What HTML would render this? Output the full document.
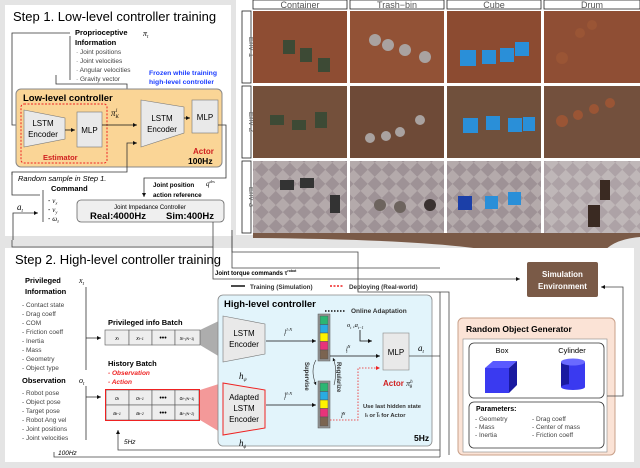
<!DOCTYPE html>
<html><head><meta charset="utf-8"><style>
body{margin:0;background:#fff}
svg{display:block}
text{font-family:"Liberation Sans",sans-serif}
.b{font-weight:bold}
.s{font-size:6.5px;fill:#444}
.m{font-family:"Liberation Serif",serif;font-style:italic}
</style></head><body>
<svg width="640" height="468" viewBox="0 0 640 468" xmlns="http://www.w3.org/2000/svg">
<defs>
<marker id="ar" markerWidth="6" markerHeight="6" refX="5" refY="3" orient="auto"><path d="M0,0.5 L5,3 L0,5.5z" fill="#111"/></marker>
<marker id="arr" markerWidth="6" markerHeight="6" refX="5" refY="3" orient="auto"><path d="M0,0.5 L5,3 L0,5.5z" fill="#e22"/></marker>
<pattern id="chk" width="20" height="20" patternUnits="userSpaceOnUse" patternTransform="rotate(45)"><rect width="20" height="20" fill="#9e9296"/><rect width="10" height="10" fill="#b4aaab"/><rect x="10" y="10" width="10" height="10" fill="#b4aaab"/></pattern>
</defs>
<rect width="640" height="468" fill="#e4e4e4"/>
<!-- Step 1 panel -->
<rect x="5" y="5" width="226" height="231" fill="#fff"/>
<text x="13" y="21" font-size="13">Step 1. Low-level controller training</text>
<text x="75" y="35" font-size="7.5" class="b">Proprioceptive</text>
<text x="75" y="45" font-size="7.5" class="b">Information</text>
<text x="143" y="36" font-size="8" class="m">π<tspan font-size="5" dy="2">t</tspan></text>
<line x1="70" y1="36" x2="70" y2="80" stroke="#333" stroke-width="0.8"/>
<g class="s"><text x="76" y="54">·   Joint positions</text><text x="76" y="63">·   Joint velocities</text><text x="76" y="72">·   Angular velocities</text><text x="76" y="81">·   Gravity vector</text></g>
<text x="149" y="75" font-size="6.8" class="b" fill="#1a3cff">Frozen while training</text>
<text x="149" y="84" font-size="6.8" class="b" fill="#1a3cff">high-level controller</text>
<polyline points="70,33 12,33 12,125 22,125" fill="none" stroke="#333" stroke-width="0.8" marker-end="url(#ar)"/>
<polyline points="56,75 56,84 127,84 127,107 137,107" fill="none" stroke="#333" stroke-width="0.8" marker-end="url(#ar)"/>
<rect x="16" y="89" width="206" height="78" rx="5" fill="#fad596" stroke="#888"/>
<text x="23" y="101" font-size="9.5" class="b">Low-level controller</text>
<rect x="21" y="104" width="86" height="59" rx="3" fill="none" stroke="#e22" stroke-dasharray="2,1.5"/>
<polygon points="24,110 65,118 65,139 24,147" fill="#e9e9e9" stroke="#777" stroke-width="0.6"/>
<text x="43" y="126" font-size="8" text-anchor="middle">LSTM</text><text x="43" y="137" font-size="8" text-anchor="middle">Encoder</text>
<rect x="77" y="112" width="25" height="35" fill="#e9e9e9" stroke="#777" stroke-width="0.6"/>
<text x="89.5" y="133" font-size="8" text-anchor="middle">MLP</text>
<line x1="65" y1="130" x2="75" y2="130" stroke="#111" stroke-width="0.8" marker-end="url(#ar)"/>
<text x="43" y="160" font-size="7.5" class="b" fill="#d02020">Estimator</text>
<text x="111" y="116" font-size="9" class="m">π<tspan font-size="5" dy="2">K</tspan><tspan font-size="5" dy="-6" dx="-3">l</tspan></text>
<line x1="102" y1="125" x2="137" y2="125" stroke="#111" stroke-width="0.8" marker-end="url(#ar)"/>
<polyline points="12,175 12,172 127,172 127,143 137,143" fill="none" stroke="#333" stroke-width="0.8" marker-end="url(#ar)"/>
<polygon points="141,100 184,107 184,133 141,147" fill="#e9e9e9" stroke="#777" stroke-width="0.6"/>
<text x="162" y="121" font-size="8" text-anchor="middle">LSTM</text><text x="162" y="132" font-size="8" text-anchor="middle">Encoder</text>
<line x1="184" y1="118" x2="190" y2="118" stroke="#111" stroke-width="0.8" marker-end="url(#ar)"/>
<rect x="192" y="100" width="26" height="33" fill="#e9e9e9" stroke="#777" stroke-width="0.6"/>
<text x="205" y="120" font-size="8" text-anchor="middle">MLP</text>
<text x="193" y="154" font-size="8" class="b" fill="#d02020">Actor</text>
<text x="188" y="164" font-size="8.5" class="b">100Hz</text>
<text x="18" y="181" font-size="7.5" font-style="italic">Random sample in Step 1.</text>
<polyline points="12,172 12,195 40,195" fill="none" stroke="#333" stroke-width="0.8"/>
<text x="51" y="191" font-size="7.5" class="b">Command</text>
<line x1="43" y1="190" x2="43" y2="222" stroke="#333" stroke-width="0.8"/>
<g font-size="7"><text x="48" y="203">-  <tspan class="m">v<tspan font-size="4.5" dy="1.5">x</tspan></tspan></text><text x="48" y="212">-  <tspan class="m">v<tspan font-size="4.5" dy="1.5">y</tspan></tspan></text><text x="48" y="221">-  <tspan class="m">ω<tspan font-size="4.5" dy="1.5">z</tspan></tspan></text></g>
<text x="17" y="210" font-size="9" class="m">a<tspan font-size="5" dy="2">t</tspan></text>
<polyline points="13,240 13,213 38,213" fill="none" stroke="#333" stroke-width="0.8" marker-end="url(#ar)"/>
<text x="153" y="187" font-size="6.3" class="b">Joint position</text>
<text x="206" y="186" font-size="7" class="m">q<tspan font-size="4" dy="-3">des</tspan></text>
<text x="153" y="197" font-size="6.3" class="b">action reference</text>
<polyline points="218,125 226,125 226,178 144,178 144,197" fill="none" stroke="#333" stroke-width="0.8" marker-end="url(#ar)"/>
<rect x="77" y="200" width="147" height="22" rx="4" fill="#efefef" stroke="#666" stroke-width="0.8"/>
<text x="150" y="209" font-size="6" text-anchor="middle">Joint Impedance Controller</text>
<text x="90" y="219" font-size="9.5" class="b">Real:4000Hz</text>
<text x="166" y="219" font-size="9.5" class="b">Sim:400Hz</text>
<!-- photo grid -->
<rect x="236" y="0" width="404" height="235" fill="#fff"/>
<g font-family="Liberation Serif" font-size="9" fill="#555" text-anchor="middle">
<rect x="253" y="0" width="94" height="9" fill="#fff" stroke="#222" stroke-width="0.8"/><text x="300" y="8">Container</text>
<rect x="350" y="0" width="94" height="9" fill="#fff" stroke="#222" stroke-width="0.8"/><text x="397" y="8">Trash−bin</text>
<rect x="447" y="0" width="94" height="9" fill="#fff" stroke="#222" stroke-width="0.8"/><text x="494" y="8">Cube</text>
<rect x="544" y="0" width="96" height="9" fill="#fff" stroke="#222" stroke-width="0.8"/><text x="592" y="8">Drum</text>
</g>
<g stroke="#222" stroke-width="0.8" fill="#fff">
<rect x="242" y="11" width="9" height="72"/><rect x="242" y="86" width="9" height="72"/><rect x="242" y="161" width="9" height="72"/></g>
<g font-family="Liberation Serif" font-size="8" fill="#666" text-anchor="middle">
<text transform="translate(249,47) rotate(90)">Env 1</text><text transform="translate(249,122) rotate(90)">Env 2</text><text transform="translate(249,197) rotate(90)">Env 3</text></g>
<g>
<rect x="253" y="11" width="94" height="72" fill="#8e4d33"/><rect x="350" y="11" width="94" height="72" fill="#925236"/><rect x="447" y="11" width="94" height="72" fill="#8c4b31"/><rect x="544" y="11" width="96" height="72" fill="#8f4e34"/>
<rect x="253" y="86" width="94" height="72" fill="#74503b"/><rect x="350" y="86" width="94" height="72" fill="#6e4a37"/><rect x="447" y="86" width="94" height="72" fill="#70503c"/><rect x="544" y="86" width="96" height="72" fill="#73503d"/>
<rect x="253" y="161" width="94" height="72" fill="url(#chk)"/><rect x="350" y="161" width="94" height="72" fill="url(#chk)"/><rect x="447" y="161" width="94" height="72" fill="url(#chk)"/><rect x="544" y="161" width="96" height="72" fill="url(#chk)" opacity="0.85"/>
</g>
<g fill="#3d4a35"><rect x="283" y="40" width="12" height="14"/><rect x="300" y="48" width="12" height="14"/><rect x="318" y="58" width="12" height="14"/><rect x="270" y="115" width="14" height="10"/><rect x="292" y="120" width="14" height="10"/><rect x="315" y="112" width="12" height="16"/><rect x="280" y="180" width="14" height="10" fill="#333"/><rect x="300" y="178" width="14" height="10" fill="#333"/><rect x="330" y="195" width="10" height="18" fill="#333"/></g>
<g fill="#2a8fd8"><rect x="460" y="50" width="16" height="16"/><rect x="482" y="50" width="14" height="14"/><rect x="500" y="48" width="14" height="14"/><rect x="515" y="42" width="14" height="14"/><rect x="463" y="118" width="15" height="15"/><rect x="486" y="116" width="14" height="14"/><rect x="508" y="118" width="14" height="14"/><rect x="523" y="117" width="12" height="14"/><rect x="458" y="196" width="14" height="14" fill="#1b3fa8"/><rect x="485" y="196" width="13" height="13"/><rect x="508" y="192" width="13" height="13"/></g>
<g fill="#a9a2a0"><circle cx="375" cy="40" r="6"/><circle cx="388" cy="45" r="6"/><circle cx="405" cy="50" r="6"/><circle cx="425" cy="57" r="6"/><circle cx="370" cy="138" r="5"/><circle cx="386" cy="136" r="5"/><circle cx="400" cy="132" r="5"/><circle cx="420" cy="120" r="5"/><circle cx="380" cy="205" r="6" fill="#6d645e"/><circle cx="400" cy="207" r="6" fill="#6d645e"/><circle cx="430" cy="205" r="6" fill="#3a3230"/></g>
<g fill="#9a5535"><circle cx="562" cy="58" r="6"/><circle cx="580" cy="33" r="5"/><circle cx="592" cy="25" r="5"/><circle cx="562" cy="121" r="6"/><circle cx="578" cy="115" r="5"/><circle cx="594" cy="109" r="5"/><circle cx="610" cy="103" r="5"/><rect x="588" y="205" width="12" height="22" fill="#3a2a22"/><rect x="600" y="180" width="10" height="20" fill="#3a2a22"/></g>
<!-- funnel -->
<path d="M253,233 L640,233 L640,237 Q605,240 598,262 L527,262 Q500,240 253,238 Z" fill="#7a5a47"/>
<!-- Step 2 panel -->
<rect x="5" y="248" width="629" height="214" fill="#fff"/>
<text x="15" y="264" font-size="13">Step 2. High-level controller training</text>
<path d="M213,222 L213,254 M232,230 L232,252 L320,252 L350,252 L358,252 L358,292 L440,292" fill="none" stroke="#444" stroke-width="0.8"/>
<polyline points="12,240 12,247 213,247" fill="none" stroke="#444" stroke-width="0.8"/>
<polyline points="213,254 213,279 520,279" fill="none" stroke="#444" stroke-width="0.8" marker-end="url(#ar)"/>
<polyline points="232,236 232,268 440,268" fill="none" stroke="#444" stroke-width="0.8"/>
<text x="215" y="275" font-size="6" class="b">Joint torque commands τ<tspan font-size="3.5" dy="-3">robot</tspan></text>
<rect x="527" y="262" width="71" height="35" rx="2" fill="#7a5a47"/>
<text x="562.5" y="277" font-size="8" class="b" fill="#fff" text-anchor="middle">Simulation</text>
<text x="562.5" y="289" font-size="8" class="b" fill="#fff" text-anchor="middle">Environment</text>
<line x1="231" y1="286" x2="245" y2="286" stroke="#111" stroke-width="1.5"/>
<text x="250" y="289" font-size="6.3" class="b" fill="#333">Training (Simulation)</text>
<line x1="330" y1="286" x2="344" y2="286" stroke="#e22" stroke-width="1.5" stroke-dasharray="2,1.5"/>
<text x="349" y="289" font-size="6.3" class="b" fill="#333">Deploying (Real-world)</text>
<text x="25" y="283" font-size="7.5" class="b">Privileged</text>
<text x="25" y="294" font-size="7.5" class="b">Information</text>
<text x="79" y="283" font-size="8" class="m">x<tspan font-size="5" dy="2">t</tspan></text>
<line x1="86" y1="287" x2="86" y2="370" stroke="#333" stroke-width="0.8"/>
<line x1="86" y1="338" x2="101" y2="338" stroke="#333" stroke-width="0.8" marker-end="url(#ar)"/>
<g class="s"><text x="22" y="307">-   Contact state</text><text x="22" y="316">-   Drag coeff</text><text x="22" y="325">-   COM</text><text x="22" y="334">-   Friction coeff</text><text x="22" y="343">-   Inertia</text><text x="22" y="352">-   Mass</text><text x="22" y="361">-   Geometry</text><text x="22" y="370">-   Object type</text></g>
<text x="22" y="383" font-size="7.5" class="b">Observation</text>
<text x="79" y="383" font-size="8" class="m">o<tspan font-size="5" dy="2">t</tspan></text>
<line x1="86" y1="386" x2="86" y2="440" stroke="#333" stroke-width="0.8"/>
<line x1="86" y1="397" x2="101" y2="397" stroke="#333" stroke-width="0.8" marker-end="url(#ar)"/>
<g class="s"><text x="22" y="395">-   Robot pose</text><text x="22" y="404">-   Object pose</text><text x="22" y="413">-   Target pose</text><text x="22" y="422">-   Robot Ang vel</text><text x="22" y="431">-   Joint positions</text><text x="22" y="440">-   Joint velocities</text></g>
<polyline points="54,452 54,457 440,457" fill="none" stroke="#444" stroke-width="0.8"/>
<text x="58" y="455" font-size="6.5" font-style="italic">100Hz</text>
<text x="108" y="325" font-size="7.5" class="b">Privileged info Batch</text>
<polygon points="200,330 225,318 225,360 200,345" fill="#999" opacity="0.8"/>
<g stroke="#555" stroke-width="0.6" fill="#eee"><rect x="105" y="330" width="24" height="15"/><rect x="129" y="330" width="23" height="15"/><rect x="152" y="330" width="23" height="15"/><rect x="175" y="330" width="25" height="15"/></g>
<g font-size="5" class="m" text-anchor="middle"><text x="117" y="340">x<tspan font-size="3.5">t</tspan></text><text x="140" y="340">x<tspan font-size="3.5">t−1</tspan></text><text x="163" y="340" font-style="normal" font-size="7">•••</text><text x="187" y="340">x<tspan font-size="3.5">t−(N−1)</tspan></text></g>
<text x="108" y="366" font-size="7.5" class="b">History Batch</text>
<text x="108" y="375" font-size="6.5" class="b" fill="#e22" font-style="italic">- Observation</text>
<text x="108" y="384" font-size="6.5" class="b" fill="#e22" font-style="italic">- Action</text>
<polygon points="200,390 225,382 225,435 200,420" fill="#f08080" opacity="0.8"/>
<g stroke="#555" stroke-width="0.6" fill="#eee"><rect x="106" y="390" width="23" height="15"/><rect x="129" y="390" width="23" height="15"/><rect x="152" y="390" width="23" height="15"/><rect x="175" y="390" width="24" height="15"/><rect x="106" y="405" width="23" height="15"/><rect x="129" y="405" width="23" height="15"/><rect x="152" y="405" width="23" height="15"/><rect x="175" y="405" width="24" height="15"/></g>
<rect x="105.5" y="389.5" width="94" height="31" fill="none" stroke="#e22" stroke-width="1"/>
<g font-size="5" class="m" text-anchor="middle"><text x="117" y="400">o<tspan font-size="3.5">t</tspan></text><text x="140" y="400">o<tspan font-size="3.5">t−1</tspan></text><text x="163" y="400" font-style="normal" font-size="7">•••</text><text x="187" y="400">o<tspan font-size="3.5">t−(N−1)</tspan></text><text x="117" y="415">a<tspan font-size="3.5">t−1</tspan></text><text x="140" y="415">a<tspan font-size="3.5">t−2</tspan></text><text x="163" y="415" font-style="normal" font-size="7">•••</text><text x="187" y="415">a<tspan font-size="3.5">t−(N−2)</tspan></text></g>
<polyline points="440,450 118,450 118,430" fill="none" stroke="#444" stroke-width="0.8" marker-end="url(#ar)"/>
<text x="124" y="444" font-size="6.5" font-style="italic">5Hz</text>
<!-- High-level controller -->
<rect x="218" y="295" width="214" height="151" rx="5" fill="#e2f4fb" stroke="#888" stroke-width="0.8"/>
<text x="224" y="307" font-size="9.5" class="b">High-level controller</text>
<polygon points="223,316 265,324 265,354 223,362" fill="#e9e9e9" stroke="#777" stroke-width="0.6"/>
<text x="244" y="336" font-size="8" text-anchor="middle">LSTM</text><text x="244" y="347" font-size="8" text-anchor="middle">Encoder</text>
<text x="239" y="379" font-size="9" class="m">h<tspan font-size="5" dy="2">ψ</tspan></text>
<polygon points="223,383 265,390 265,428 223,435" fill="#e9e9e9" stroke="#e22" stroke-width="1"/>
<text x="244" y="400" font-size="8" text-anchor="middle">Adapted</text><text x="244" y="411" font-size="8" text-anchor="middle">LSTM</text><text x="244" y="422" font-size="8" text-anchor="middle">Encoder</text>
<text x="239" y="446" font-size="9" class="m">h<tspan font-size="5" dy="2">ϕ</tspan></text>
<line x1="266" y1="341" x2="316" y2="341" stroke="#111" stroke-width="0.8" marker-end="url(#ar)"/>
<text x="284" y="334" font-size="6" class="m">l<tspan font-size="4" dy="-3">1:N</tspan><tspan font-size="4" dy="5" dx="-8">t</tspan></text>
<line x1="266" y1="405" x2="316" y2="405" stroke="#111" stroke-width="0.8" marker-end="url(#ar)"/>
<text x="284" y="398" font-size="6" class="m">l̃<tspan font-size="4" dy="-3">1:N</tspan><tspan font-size="4" dy="5" dx="-8">t</tspan></text>
<g stroke="#555" stroke-width="0.5"><rect x="318" y="314" width="12" height="47" fill="#999"/><rect x="320" y="316" width="8" height="8.5" fill="#2bb673"/><rect x="320" y="324.5" width="8" height="8.5" fill="#29abe2"/><rect x="320" y="333" width="8" height="8.5" fill="#fff200"/><rect x="320" y="341.5" width="8" height="8.5" fill="#e8337a"/><rect x="320" y="350" width="8" height="9" fill="#7b6450"/>
<rect x="318" y="381" width="12" height="47" fill="#999"/><rect x="320" y="383" width="8" height="8.5" fill="#2bb673"/><rect x="320" y="391.5" width="8" height="8.5" fill="#29abe2"/><rect x="320" y="400" width="8" height="8.5" fill="#fff200"/><rect x="320" y="408.5" width="8" height="8.5" fill="#e8337a"/><rect x="320" y="417" width="8" height="9" fill="#7b6450"/></g>
<line x1="325" y1="311" x2="346" y2="311" stroke="#111" stroke-width="1.5" stroke-dasharray="1.5,1.5"/>
<text x="351" y="313" font-size="6.5" class="b" fill="#333">Online Adaptation</text>
<path d="M316,360 Q310,370 316,385" fill="none" stroke="#333" stroke-width="0.6" marker-end="url(#ar)"/>
<path d="M334,385 Q338,370 333,358" fill="none" stroke="#333" stroke-width="0.6" marker-end="url(#ar)"/>
<text transform="translate(305,362) rotate(90)" font-size="6" class="b" fill="#333">Supervise</text>
<text transform="translate(337,362) rotate(90)" font-size="6" class="b" fill="#333">Regularize</text>
<line x1="330" y1="356" x2="380" y2="356" stroke="#111" stroke-width="0.8" marker-end="url(#ar)"/>
<text x="346" y="351" font-size="6" class="m">l<tspan font-size="4" dy="-3">N</tspan><tspan font-size="4" dy="5" dx="-4">t</tspan></text>
<text x="347" y="327" font-size="6.5" class="m">o<tspan font-size="4" dy="2">t</tspan><tspan dy="-2"> ,a</tspan><tspan font-size="4" dy="2">t−1</tspan></text>
<polyline points="360,330 360,341 372,341" fill="none" stroke="#111" stroke-width="0.8" marker-end="url(#ar)"/>
<polyline points="330,420 358,420 358,368 380,368" fill="none" stroke="#e22" stroke-width="0.8" stroke-dasharray="1.5,1.5" marker-end="url(#arr)"/>
<text x="341" y="418" font-size="6" class="m">l̃<tspan font-size="4" dy="-3">N</tspan></text>
<rect x="383" y="333" width="26" height="37" fill="#e9e9e9" stroke="#888" stroke-width="0.6"/>
<text x="396" y="355" font-size="8" text-anchor="middle">MLP</text>
<text x="418" y="351" font-size="9" class="m">a<tspan font-size="5" dy="2">t</tspan></text>
<polyline points="409,356 440,356" fill="none" stroke="#444" stroke-width="0.8"/>
<text x="383" y="386" font-size="8" class="b" fill="#d02020">Actor <tspan fill="#222" class="m" font-weight="normal">π<tspan font-size="5" dy="-3">h</tspan><tspan font-size="5" dy="5" dx="-3">θ</tspan></tspan></text>
<text x="363" y="408" font-size="5.8" class="b" fill="#333">Use last hidden state</text>
<text x="365" y="417" font-size="5.8" class="b" fill="#333">l<tspan font-size="3.5">t</tspan> or l̃<tspan font-size="3.5">t</tspan> for Actor</text>
<text x="414" y="441" font-size="8.5" class="b">5Hz</text>
<polyline points="440,457 440,292 449,292 449,455" fill="none" stroke="#444" stroke-width="0.8"/>
<!-- Random Object Generator -->
<rect x="458" y="318" width="157" height="137" rx="5" fill="#fbe3d6" stroke="#c9a089" stroke-width="1"/>
<text x="466" y="332" font-size="8.5" class="b">Random Object Generator</text>
<rect x="463" y="339" width="144" height="113" fill="#fff" stroke="#888" stroke-width="0.6"/>
<rect x="469" y="343" width="135" height="55" rx="5" fill="#fff" stroke="#333" stroke-width="0.8"/>
<text x="502" y="353" font-size="7.5" text-anchor="middle">Box</text>
<text x="572" y="353" font-size="7.5" text-anchor="middle">Cylinder</text>
<polygon points="485,368 493,361 517,361 509,368" fill="#5a5aff"/><polygon points="509,368 517,361 517,385 509,393" fill="#1a1aa0"/><rect x="485" y="368" width="24" height="25" fill="#3a3af0"/>
<rect x="561" y="362" width="24" height="25" fill="#3a3af0"/><rect x="561" y="362" width="8" height="25" fill="#1a1aa0"/><ellipse cx="573" cy="387" rx="12" ry="3" fill="#3a3af0"/><ellipse cx="573" cy="362" rx="12" ry="3.5" fill="#6a6aff"/>
<rect x="469" y="402" width="135" height="46" rx="5" fill="#fff" stroke="#333" stroke-width="0.8"/>
<text x="476" y="411" font-size="7" class="b">Parameters:</text>
<g class="s"><text x="475" y="421">-     Geometry</text><text x="475" y="429">-     Mass</text><text x="475" y="437">-     Inertia</text><text x="532" y="421">-     Drag coeff</text><text x="532" y="429">-     Center of mass</text><text x="532" y="437">-     Friction coeff</text></g>
<polyline points="607,396 623,396 623,287 601,287" fill="none" stroke="#444" stroke-width="0.8" marker-end="url(#ar)"/>
</svg>
</body></html>
